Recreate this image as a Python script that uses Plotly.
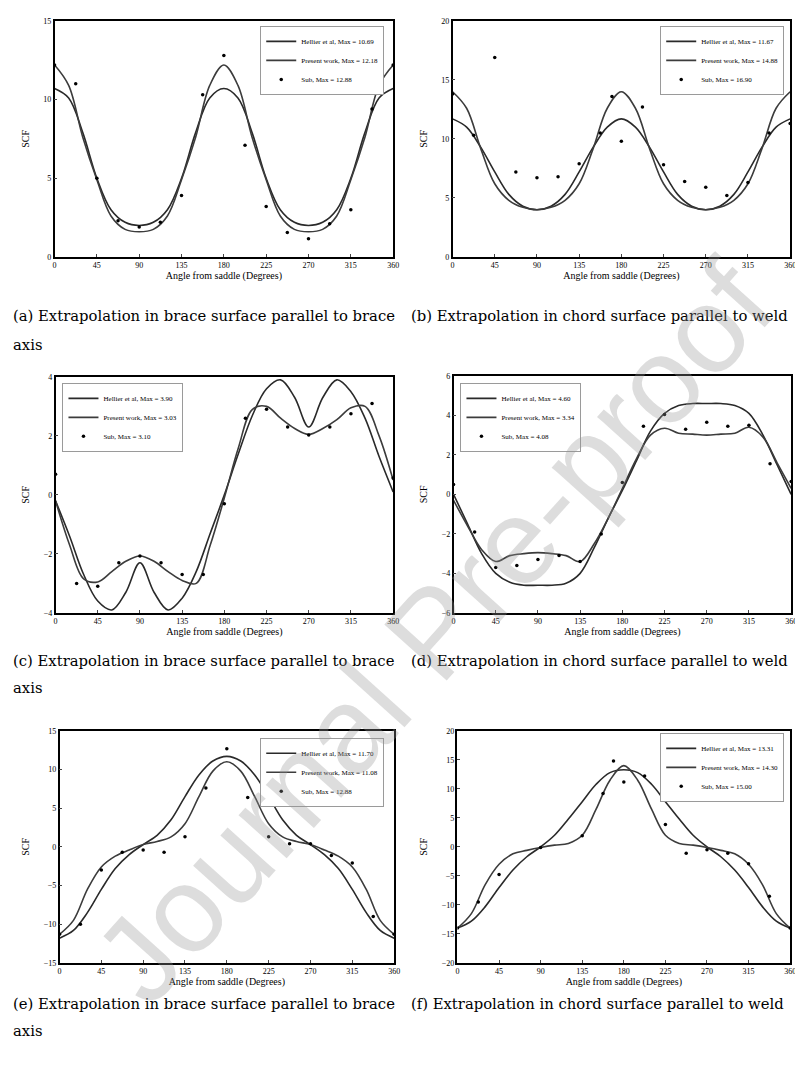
import plotly.graph_objects as go

# ---------------- data ----------------
angles = [0, 15, 30, 45, 60, 75, 90, 105, 120, 135, 150, 165, 180,
          195, 210, 225, 240, 255, 270, 285, 300, 315, 330, 345, 360]
sub_angles = [0, 22.5, 45, 67.5, 90, 112.5, 135, 157.5, 180,
              202.5, 225, 247.5, 270, 292.5, 315, 337.5, 360]
x_ticks = [0, 45, 90, 135, 180, 225, 270, 315, 360]

# (a) brace surface, parallel to brace axis
a_hellier = [10.7, 10.1, 7.9, 5.0, 3.0, 2.2, 2.0, 2.2, 3.0, 5.0, 7.9, 10.1, 10.7,
             10.1, 7.9, 5.0, 3.0, 2.2, 2.0, 2.2, 3.0, 5.0, 7.9, 10.1, 10.7]
a_present = [12.2, 10.9, 7.6, 4.9, 2.6, 1.75, 1.6, 1.75, 2.6, 4.9, 7.6, 10.9, 12.2,
             10.9, 7.6, 4.9, 2.6, 1.75, 1.6, 1.75, 2.6, 4.9, 7.6, 10.9, 12.2]
a_sub = [12.2, 11.0, 5.0, 2.3, 1.9, 2.2, 3.9, 10.3, 12.8,
         7.1, 3.2, 1.55, 1.15, 2.1, 3.0, 9.4, 12.2]

# (b) chord surface, parallel to weld
b_hellier = [11.7, 11.0, 9.3, 7.2, 5.3, 4.3, 4.0, 4.3, 5.3, 7.2, 9.3, 11.0, 11.7,
             11.0, 9.3, 7.2, 5.3, 4.3, 4.0, 4.3, 5.3, 7.2, 9.3, 11.0, 11.7]
b_present = [14.0, 12.6, 9.2, 6.2, 4.8, 4.2, 4.0, 4.2, 4.8, 6.2, 9.2, 12.6, 14.0,
             12.6, 9.2, 6.2, 4.8, 4.2, 4.0, 4.2, 4.8, 6.2, 9.2, 12.6, 14.0]
b_sub_angles = [0, 22.5, 45, 67.5, 90, 112.5, 135, 157.5, 170, 180,
                202.5, 225, 247.5, 270, 292.5, 315, 337.5, 360]
b_sub = [13.8, 10.3, 16.9, 7.2, 6.7, 6.8, 7.9, 10.5, 13.6, 9.8,
         12.7, 7.8, 6.4, 5.9, 5.2, 6.3, 10.5, 11.3]

# (c) brace surface, parallel to brace axis
c_hellier = [-0.2, -1.4, -2.7, -3.6, -3.9, -3.3, -2.3, -3.3, -3.9, -3.5, -2.6, -1.3, 0.0,
             1.4, 2.7, 3.6, 3.9, 3.3, 2.3, 3.3, 3.9, 3.5, 2.6, 1.3, 0.1]
c_present = [-0.2, -1.7, -2.85, -2.95, -2.6, -2.25, -2.07, -2.25, -2.6, -2.9, -3.0, -1.7, -0.1,
             1.6, 2.9, 3.0, 2.6, 2.25, 2.05, 2.25, 2.55, 2.95, 3.0, 2.0, 0.5]
c_sub = [0.7, -3.0, -3.1, -2.3, -2.07, -2.3, -2.7, -2.7, -0.3,
         2.6, 2.9, 2.3, 2.03, 2.3, 2.75, 3.1, 0.57]

# (d) chord surface, parallel to weld
d_hellier = [0.0, -1.5, -3.0, -4.0, -4.45, -4.6, -4.6, -4.6, -4.5, -4.0, -2.7, -1.2, 0.2,
             1.7, 3.2, 4.1, 4.5, 4.6, 4.6, 4.6, 4.5, 4.1, 3.0, 1.5, 0.0]
d_present = [-0.3, -1.6, -2.8, -3.4, -3.1, -3.0, -2.95, -3.0, -3.1, -3.4, -2.5, -1.2, 0.3,
             1.8, 3.0, 3.35, 3.1, 3.05, 3.0, 3.05, 3.1, 3.4, 2.9, 1.6, 0.3]
d_sub = [0.5, -1.9, -3.7, -3.6, -3.3, -3.1, -3.4, -2.0, 0.6,
         3.45, 4.05, 3.3, 3.65, 3.45, 3.5, 1.55, 0.65]

# (e) brace surface, parallel to brace axis
e_hellier = [-11.8, -10.8, -8.5, -5.5, -2.8, -1.0, 0.3, 1.5, 3.5, 6.5, 9.3, 11.1, 11.7,
             11.1, 9.3, 6.5, 3.5, 1.5, 0.3, -1.0, -2.8, -5.5, -8.5, -10.8, -11.8]
e_present = [-11.3, -9.5, -5.5, -2.6, -1.2, -0.4, 0.3, 0.7, 1.3, 3.0, 6.5, 9.8, 11.0,
             9.8, 6.5, 3.0, 1.3, 0.7, 0.3, -0.4, -1.2, -2.6, -5.5, -9.5, -11.3]
e_sub = [-11.3, -10.0, -3.0, -0.7, -0.4, -0.7, 1.3, 7.6, 12.7,
         6.4, 1.3, 0.4, 0.4, -1.1, -2.1, -9.0, -11.3]

# (f) chord surface, parallel to weld
f_hellier = [-14.0, -12.8, -10.3, -7.0, -4.0, -1.7, 0.0, 2.0, 4.8, 7.8, 10.8, 12.8, 13.3,
             12.8, 10.8, 7.8, 4.8, 2.0, 0.0, -1.7, -4.0, -7.0, -10.3, -12.8, -14.0]
f_present = [-14.0, -11.5, -6.5, -3.0, -1.2, -0.6, -0.1, 0.3, 0.6, 2.0, 6.5, 11.5, 14.0,
             11.5, 6.5, 2.0, 0.6, 0.3, -0.1, -0.6, -1.2, -3.0, -6.5, -11.5, -14.0]
f_sub_angles = [0, 22.5, 45, 90, 135, 157.5, 168.8, 180, 202.5,
                225, 247.5, 270, 292.5, 315, 337.5, 360]
f_sub = [-14.0, -9.5, -4.75, -0.1, 1.9, 9.2, 14.8, 11.2, 12.2,
         3.85, -1.1, -0.5, -1.1, -2.9, -8.5, -14.0]

legend_labels = {
    "a": ["Hellier et al, Max = 10.69", "Present work, Max = 12.18", "Sub, Max = 12.88"],
    "b": ["Hellier et al, Max = 11.67", "Present work, Max = 14.88", "Sub, Max = 16.90"],
    "c": ["Hellier et al, Max = 3.90", "Present work, Max = 3.03", "Sub, Max = 3.10"],
    "d": ["Hellier et al, Max = 4.60", "Present work, Max = 3.34", "Sub, Max = 4.08"],
    "e": ["Hellier et al, Max = 11.70", "Present work, Max = 11.08", "Sub, Max = 12.88"],
    "f": ["Hellier et al, Max = 13.31", "Present work, Max = 14.30", "Sub, Max = 15.00"],
}
captions = {
    "a": "(a) Extrapolation in brace surface parallel to brace",
    "b": "(b) Extrapolation in chord surface parallel to weld",
    "c": "(c) Extrapolation in brace surface parallel to brace",
    "d": "(d) Extrapolation in chord surface parallel to weld",
    "e": "(e) Extrapolation in brace surface parallel to brace",
    "f": "(f) Extrapolation in chord surface parallel to weld",
}
y_ranges = {"a": [0, 15], "b": [0, 20], "c": [-4, 4], "d": [-6, 6], "e": [-15, 15], "f": [-20, 20]}
y_dticks = {"a": 5, "b": 5, "c": 2, "d": 2, "e": 5, "f": 5}

# ---------------- layout helpers ----------------
W, H = 803, 1065
def px(x):
    return x / W
def py(y):
    return 1 - y / H

panels = {
    # key: (left, right, top, bottom) in pixels
    "a": (45, 387, 9, 247),
    "b": (447, 788, 9, 247),
    "c": (46, 387, 368, 606),
    "d": (448, 789, 367, 606),
    "e": (50, 388, 725, 959),
    "f": (452, 788, 725, 959),
}
legend_pos = {
    "a": (378, 14, "right"),
    "b": (782, 14, "right"),
    "c": (53, 374, "left"),
    "d": (455, 374, "left"),
    "e": (378, 732, "right"),
    "f": (782, 727, "right"),
}
series = {
    "a": (a_hellier, a_present, sub_angles, a_sub),
    "b": (b_hellier, b_present, b_sub_angles, b_sub),
    "c": (c_hellier, c_present, sub_angles, c_sub),
    "d": (d_hellier, d_present, sub_angles, d_sub),
    "e": (e_hellier, e_present, sub_angles, e_sub),
    "f": (f_hellier, f_present, f_sub_angles, f_sub),
}

SERIF = "Liberation Serif"
fig = go.Figure()
layout = dict(
    width=W, height=H, margin=dict(l=0, r=0, t=0, b=0),
    paper_bgcolor="white", plot_bgcolor="white",
    font=dict(family=SERIF, color="black"),
    annotations=[],
)

for i, key in enumerate(["a", "b", "c", "d", "e", "f"]):
    n = i + 1
    xa = "x" if n == 1 else f"x{n}"
    ya = "y" if n == 1 else f"y{n}"
    lg = "legend" if n == 1 else f"legend{n}"
    hel, pres, sx, sy = series[key]
    labels = legend_labels[key]
    fig.add_trace(go.Scatter(x=angles, y=hel, mode="lines", name=labels[0],
                             line=dict(color="#2a2a2a", width=1.6, shape="spline", smoothing=1.0),
                             xaxis=xa, yaxis=ya, legend=lg))
    fig.add_trace(go.Scatter(x=angles, y=pres, mode="lines", name=labels[1],
                             line=dict(color="#3c3c3c", width=1.6, shape="spline", smoothing=1.0),
                             xaxis=xa, yaxis=ya, legend=lg))
    fig.add_trace(go.Scatter(x=sx, y=sy, mode="markers", name=labels[2],
                             marker=dict(color="black", size=3.5),
                             xaxis=xa, yaxis=ya, legend=lg))
    l, r, t, b = panels[key]
    xname = "xaxis" if n == 1 else f"xaxis{n}"
    yname = "yaxis" if n == 1 else f"yaxis{n}"
    layout[xname] = dict(
        domain=[px(l), px(r)], anchor=ya, range=[0, 360],
        tickvals=x_ticks, ticks="inside", ticklen=3, tickwidth=1,
        showline=True, linecolor="black", linewidth=1.5, mirror=True,
        showgrid=False, zeroline=False,
        tickfont=dict(family=SERIF, size=8),
        title=dict(text="Angle from saddle (Degrees)", font=dict(family=SERIF, size=10), standoff=2),
    )
    layout[yname] = dict(
        domain=[py(b), py(t)], anchor=xa, range=y_ranges[key], dtick=y_dticks[key],
        ticks="inside", ticklen=3, tickwidth=1,
        showline=True, linecolor="black", linewidth=1.5, mirror=True,
        showgrid=False, zeroline=False,
        tickfont=dict(family=SERIF, size=8),
        title=dict(text="SCF", font=dict(family=SERIF, size=10), standoff=12),
    )
    lx, ly, anc = legend_pos[key]
    layout[lg] = dict(
        x=px(lx), y=py(ly), xanchor=anc, yanchor="top",
        bgcolor="white", bordercolor="#9a9a9a", borderwidth=1,
        font=dict(family=SERIF, size=7), itemwidth=30, tracegroupgap=0,
    )

# captions
cap_rows = {"a": (1, 306), "b": (403, 306), "c": (1, 654), "d": (403, 654), "e": (1, 1000), "f": (403, 1000)}
for key, (cx, cy) in cap_rows.items():
    layout["annotations"].append(dict(
        text=captions[key], x=px(cx), y=py(cy), xref="paper", yref="paper",
        xanchor="left", yanchor="middle", showarrow=False,
        font=dict(family="DejaVu Serif", size=14.8, color="black")))
for cy in (335, 681, 1027):
    layout["annotations"].append(dict(
        text="axis", x=px(1), y=py(cy), xref="paper", yref="paper",
        xanchor="left", yanchor="middle", showarrow=False,
        font=dict(family="DejaVu Serif", size=14.8, color="black")))

# watermark
layout["annotations"].append(dict(
    text="Journal Pre-proof", x=px(428), y=py(625), xref="paper", yref="paper",
    xanchor="center", yanchor="middle", showarrow=False, textangle=-48,
    font=dict(family="Liberation Sans", size=122, color="rgba(150,150,150,0.32)")))

fig.update_layout(**layout)
fig.write_html("out.html")
